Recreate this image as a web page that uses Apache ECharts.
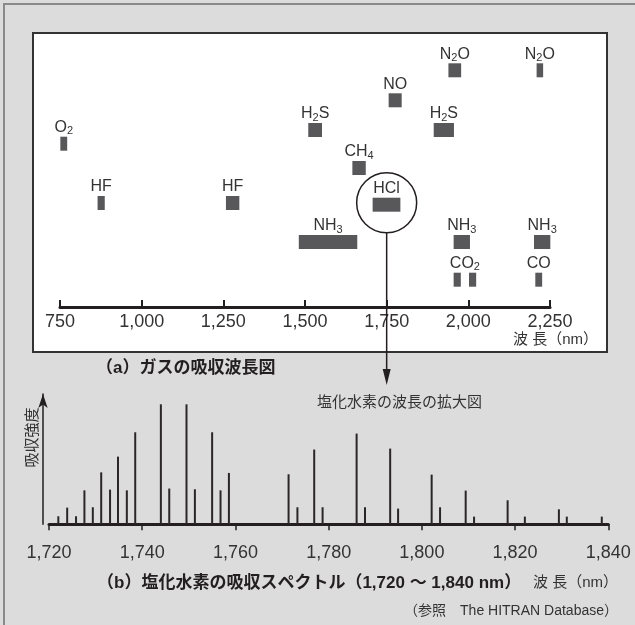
<!DOCTYPE html>
<html>
<head>
<meta charset="utf-8">
<script src="https://cdn.jsdelivr.net/npm/echarts@6/dist/echarts.min.js"></script>
<style>html,body{margin:0;padding:0;background:#dcdcdc;}#c{width:635px;height:625px;}</style>
</head>
<body>
<div id="c"></div>
<script>
// ---- (a) gas absorption bands (nm) ----
var gasLabel = ['O2','HF','HF','H2S','NH3','CH4','HCl','NO','H2S','N2O','NH3','CO2','CO2','N2O','NH3','CO'];
var gasStart = [751, 865, 1258, 1510, 1481, 1645, 1707, 1756, 1894, 1939, 1955, 1955, 2002, 2209, 2201, 2205];
var gasEnd   = [772, 887, 1299, 1552, 1660, 1686, 1792, 1796, 1956, 1978, 2005, 1977, 2024, 2229, 2251, 2226];
var gasLevel = [16.33, 10.4, 10.4, 17.7, 6.5, 13.9, 10.23, 20.67, 17.7, 23.67, 6.5, 2.73, 2.73, 23.67, 6.5, 2.73];
var topTicks = [750, 1000, 1250, 1500, 1750, 2000, 2250];

// ---- (b) HCl absorption lines ----
var hclWavelength = [1722.0,1723.9,1725.8,1727.6,1729.4,1731.2,1733.1,1734.8,1736.7,1738.5,
  1744.0,1745.8,1749.5,1751.3,1755.0,1756.8,1758.6,1771.4,1773.3,1776.9,
  1778.7,1786.0,1787.8,1793.2,1794.9,1802.1,1803.9,1809.4,1811.2,1818.4,
  1822.1,1829.4,1831.1,1838.6];
var hclIntensity = [6.7,13.9,6.7,28.3,14.2,43.3,28.9,56.4,28.3,76.7,
  100,29.8,100,29.2,76.7,28.3,42.8,41.7,14.2,62.3,
  14.2,75.6,14.2,63.1,13.1,41.4,14.2,28.1,6.4,20,
  6.4,12.5,6.4,6.4];
var bottomTicks = [1720, 1740, 1760, 1780, 1800, 1820, 1840];

var FONT = "'Liberation Sans','Noto Sans CJK JP',sans-serif";
var INK = '#231f20';
var GROUP_GAP = 50; // bands of the same gas closer than this (nm) share one label

function fmt(v){ return String(v).replace(/\B(?=(\d{3})+(?!\d))/g, ','); }
function toRich(s){
  return s.replace(/(\D+)|(\d+)/g, function(m, a, b){ return a ? '{n|' + a + '}' : '{s|' + b + '}'; });
}
function sameGroup(i, j){
  if (gasLabel[i] !== gasLabel[j] || gasLevel[i] !== gasLevel[j]) return false;
  var gap = Math.max(gasStart[i], gasStart[j]) - Math.min(gasEnd[i], gasEnd[j]);
  return gap < GROUP_GAP;
}

var gasData = gasLabel.map(function(l, i){ return [gasStart[i], gasEnd[i], gasLevel[i]]; });
var hclData = hclWavelength.map(function(w, i){ return [w, hclIntensity[i]]; });

var chart = echarts.init(document.getElementById('c'), null, {renderer:'canvas'});

var option = {
  backgroundColor: '#dcdcdc',
  animation: false,
  grid: [
    {left: 60, right: 85, top: 47, bottom: 318},
    {left: 49, right: 26.7, top: 394, bottom: 100.7}
  ],
  xAxis: [
    {gridIndex: 0, type: 'value', min: topTicks[0], max: topTicks[topTicks.length-1], interval: 250,
     axisLine: {lineStyle: {color: INK, width: 3}},
     axisTick: {inside: true, length: 7, lineStyle: {color: INK, width: 2}},
     axisLabel: {fontSize: 18, color: '#333', margin: 6, fontFamily: FONT, formatter: fmt, showMinLabel: true, showMaxLabel: true},
     splitLine: {show: false}},
    {gridIndex: 1, type: 'value', min: bottomTicks[0], max: bottomTicks[bottomTicks.length-1], interval: 20,
     axisLine: {lineStyle: {color: INK, width: 3}},
     axisTick: {inside: false, length: 6, lineStyle: {color: INK, width: 1.5}},
     axisLabel: {fontSize: 18, color: '#333', margin: 20, fontFamily: FONT, formatter: fmt, showMinLabel: true, showMaxLabel: true},
     splitLine: {show: false}}
  ],
  yAxis: [
    {gridIndex: 0, type: 'value', min: 0, max: 26, show: false},
    {gridIndex: 1, type: 'value', min: 0, max: 108.6, offset: 6,
     axisLine: {show: true, onZero: false, symbol: ['none', 'arrow'], symbolSize: [7, 14], lineStyle: {color: INK, width: 1.5}},
     axisTick: {show: false}, axisLabel: {show: false}, splitLine: {show: false}}
  ],
  series: [
    {
      type: 'custom', xAxisIndex: 0, yAxisIndex: 0, data: gasData, z: 3,
      renderItem: function(params, api){
        var i = params.dataIndex;
        var s = api.coord([api.value(0), api.value(2)]);
        var e = api.coord([api.value(1), api.value(2)]);
        var h = 14;
        var children = [{type: 'rect', shape: {x: s[0], y: s[1] - h/2, width: e[0] - s[0], height: h}, style: {fill: '#58585a'}}];
        var first = -1, lo = Infinity, hi = -Infinity;
        for (var j = 0; j < gasLabel.length; j++) {
          if (j === i || sameGroup(i, j)) {
            if (first < 0) first = j;
            lo = Math.min(lo, gasStart[j]); hi = Math.max(hi, gasEnd[j]);
          }
        }
        if (first === i) {
          var cx = (api.coord([lo, 0])[0] + api.coord([hi, 0])[0]) / 2;
          children.push({type: 'text', style: {
            text: toRich(gasLabel[i]), x: cx, y: s[1] - h/2, align: 'center', verticalAlign: 'bottom',
            rich: {
              n: {fontSize: 16, lineHeight: 18, fontFamily: FONT, fill: '#333'},
              s: {fontSize: 11, lineHeight: 11, fontFamily: FONT, fill: '#333', verticalAlign: 'bottom'}
            }
          }});
        }
        return {type: 'group', children: children};
      }
    },
    {
      type: 'custom', xAxisIndex: 1, yAxisIndex: 1, data: hclData, z: 3,
      renderItem: function(params, api){
        var p0 = api.coord([api.value(0), 0]);
        var p1 = api.coord([api.value(0), api.value(1)]);
        return {type: 'rect', shape: {x: p0[0] - 1, y: p1[1], width: 2, height: p0[1] - p1[1]}, style: {fill: '#2b2626'}};
      }
    }
  ],
  graphic: [
    {id: 'outer', type: 'polyline', z: -20, shape: {points: [[4, 625], [4, 4], [635, 4]]}, style: {stroke: '#8a8a8a', lineWidth: 2, fill: null}},
    {id: 'panel', type: 'rect', z: -10, shape: {x: 33, y: 33, width: 574, height: 319}, style: {fill: '#ffffff', stroke: '#333', lineWidth: 2}},
    {id: 'unitA', type: 'text', z: 5, style: {text: '波 長（nm）', x: 598, y: 340, align: 'right', verticalAlign: 'middle', font: '15px ' + FONT, fill: '#333'}},
    {id: 'capA', type: 'text', z: 5, style: {text: '（a）ガスの吸収波長図', x: 96, y: 368, align: 'left', verticalAlign: 'middle', font: 'bold 17px ' + FONT, fill: INK}},
    {id: 'zoomT', type: 'text', z: 5, style: {text: '塩化水素の波長の拡大図', x: 317, y: 403, align: 'left', verticalAlign: 'middle', font: '15px ' + FONT, fill: '#333'}},
    {id: 'yname', type: 'text', z: 5, x: 32.5, y: 437.5, rotation: Math.PI / 2, style: {text: '吸収強度', x: 0, y: 0, align: 'center', verticalAlign: 'middle', font: '15px ' + FONT, fill: '#333'}},
    {id: 'capB', type: 'text', z: 5, style: {text: '（b）塩化水素の吸収スペクトル（1,720 ～ 1,840 nm）', x: 97, y: 583, align: 'left', verticalAlign: 'middle', font: 'bold 17px ' + FONT, fill: INK}},
    {id: 'unitB', type: 'text', z: 5, style: {text: '波 長（nm）', x: 618, y: 583, align: 'right', verticalAlign: 'middle', font: '15px ' + FONT, fill: '#333'}},
    {id: 'ref', type: 'text', z: 5, style: {text: '（参照　The HITRAN Database）', x: 618, y: 611, align: 'right', verticalAlign: 'middle', font: '14px ' + FONT, fill: '#333'}}
  ]
};
chart.setOption(option);

// circle around HCl band and arrow to the enlarged spectrum
var hIdx = gasLabel.indexOf('HCl');
var cxp = chart.convertToPixel({xAxisIndex: 0}, 1750);
var cyp = chart.convertToPixel({yAxisIndex: 0}, gasLevel[hIdx]) - 2;
chart.setOption({
  graphic: [
    {id: 'circ', type: 'circle', z: 6, shape: {cx: cxp, cy: cyp, r: 30}, style: {stroke: INK, lineWidth: 1.5, fill: null}},
    {id: 'arrowLine', type: 'line', z: 6, shape: {x1: cxp, y1: cyp + 30, x2: cxp, y2: 372}, style: {stroke: INK, lineWidth: 1.5}},
    {id: 'arrowHead', type: 'polygon', z: 6, shape: {points: [[cxp - 4, 369], [cxp + 4, 369], [cxp, 385]]}, style: {fill: INK}}
  ]
});
</script>
</body>
</html>
